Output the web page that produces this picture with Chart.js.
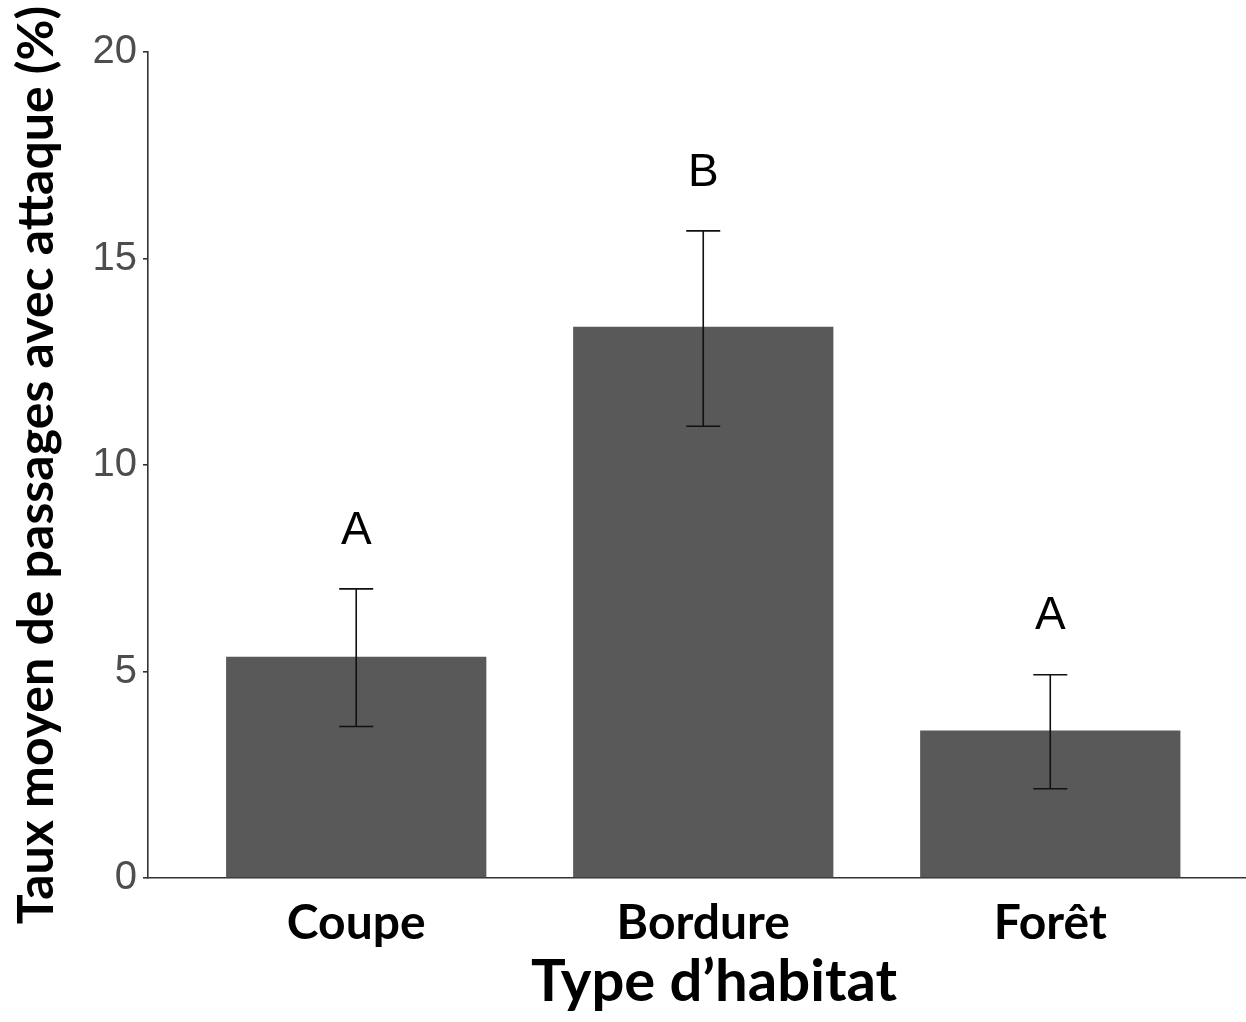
<!DOCTYPE html>
<html>
<head>
<meta charset="utf-8">
<script src="https://cdn.jsdelivr.net/npm/chart.js@4"></script>
<style>
  html, body { margin: 0; padding: 0; background: #ffffff; }
  #wrap { width: 1246px; height: 1022px; }
</style>
</head>
<body>
<div id="wrap"><canvas id="c" width="1246" height="1022"></canvas></div>
<script>
// ---- data ----
const categories = ['Coupe', 'Bordure', 'Forêt'];
const means      = [5.36, 13.35, 3.57];
const errLow     = [3.67, 10.94, 2.16];
const errHigh    = [7.00, 15.67, 4.92];
const letters    = ['A', 'B', 'A'];
const yTicks     = [0, 5, 10, 15, 20];
const yTitle     = 'Taux moyen de passages avec attaque (%)';
const xTitle     = 'Type d\u2019habitat';

const positions = categories.map((_, i) => i + 1);
const barData = positions.map((x, i) => ({ x: x, y: means[i] }));

// x extent of the (cropped) panel in category units
const xMin = 0.4, xMaxVisible = 3.564, xMaxPanel = 3.662;

// the original panel continues past the right edge of the picture:
// extend the x scale box so its axis line and centred title match
const panelExtentPlugin = {
  id: 'panelExtent',
  afterLayout(chart) {
    const s = chart.scales.x;
    s.right = s.getPixelForValue(xMaxPanel);
  }
};

const errorBarsPlugin = {
  id: 'errorBars',
  afterDatasetsDraw(chart) {
    const { ctx, scales: { x, y } } = chart;
    ctx.save();
    ctx.strokeStyle = '#111111';
    ctx.lineWidth = 1.6;
    const cap = 17;
    positions.forEach((p, i) => {
      const px = x.getPixelForValue(p);
      const yl = y.getPixelForValue(errLow[i]);
      const yh = y.getPixelForValue(errHigh[i]);
      ctx.beginPath();
      ctx.moveTo(px, yl); ctx.lineTo(px, yh);
      ctx.moveTo(px - cap, yh); ctx.lineTo(px + cap, yh);
      ctx.moveTo(px - cap, yl); ctx.lineTo(px + cap, yl);
      ctx.stroke();
    });
    // significance letters
    ctx.fillStyle = '#000000';
    ctx.font = '46px "Liberation Sans", Arial, sans-serif';
    ctx.textAlign = 'center';
    ctx.textBaseline = 'middle';
    positions.forEach((p, i) => {
      const px = x.getPixelForValue(p);
      const yh = y.getPixelForValue(errHigh[i]);
      ctx.fillText(letters[i], px, yh - 58);
    });
    ctx.restore();
  }
};

new Chart(document.getElementById('c'), {
  type: 'bar',
  data: {
    datasets: [{
      data: barData,
      backgroundColor: '#595959',
      borderWidth: 0,
      barPercentage: 0.75,
      categoryPercentage: 1.0
    }]
  },
  options: {
    responsive: false,
    animation: false,
    events: [],
    layout: { padding: { top: 52, right: 0, bottom: 0, left: 0 } },
    plugins: { legend: { display: false }, tooltip: { enabled: false } },
    scales: {
      x: {
        type: 'linear',
        offset: false,
        min: xMin,
        max: xMaxVisible,
        afterFit: s => { s.height = 144; },
        afterBuildTicks: s => { s.ticks = positions.map(v => ({ value: v })); },
        grid: { display: false, drawTicks: false, offset: false },
        border: { display: true, color: '#333333', width: 1.6 },
        ticks: {
          autoSkip: false,
          maxRotation: 0,
          padding: 17,
          color: '#000000',
          font: { family: 'Lato', weight: 'bold', size: 48 },
          callback: (v) => {
            const idx = positions.indexOf(v);
            return idx >= 0 ? categories[idx] : '';
          }
        },
        title: {
          display: true,
          text: xTitle,
          color: '#000000',
          font: { family: 'Lato', weight: 'bold', size: 58 },
          padding: { top: 0, bottom: 5 }
        }
      },
      y: {
        min: 0,
        max: 20,
        afterFit: s => { s.width = 148; },
        afterBuildTicks: s => { s.ticks = yTicks.map(v => ({ value: v })); },
        grid: { display: true, drawOnChartArea: false, drawTicks: true, tickLength: 5, color: '#333333', lineWidth: 1.6 },
        border: { display: true, color: '#333333', width: 1.6 },
        ticks: {
          padding: 6,
          color: '#4d4d4d',
          font: { family: '"Liberation Sans", Arial, sans-serif', size: 40 }
        },
        title: {
          display: true,
          text: yTitle,
          color: '#000000',
          font: { family: 'Lato', weight: 'bold', size: 50 },
          padding: { top: 7, bottom: 0 }
        }
      }
    }
  },
  plugins: [panelExtentPlugin, errorBarsPlugin]
});
</script>
</body>
</html>
